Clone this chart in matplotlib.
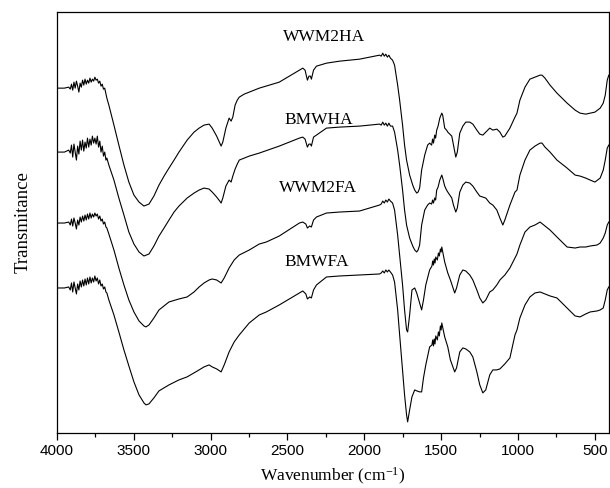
import matplotlib
matplotlib.use("Agg")
import matplotlib.pyplot as plt
from matplotlib.ticker import MultipleLocator

plt.rcParams["mathtext.fontset"] = "custom"
plt.rcParams["mathtext.rm"] = "Liberation Serif"
plt.rcParams["mathtext.it"] = "Liberation Serif:italic"
plt.rcParams["mathtext.bf"] = "Liberation Serif:bold"

# ---------------- data (wavenumber cm^-1, transmittance in arbitrary stacked units) -------------
noise_wn = [3912, 3904, 3896, 3888, 3880, 3872, 3864, 3856, 3848, 3840, 3832, 3824, 3816, 3808, 3800,
            3792, 3784, 3776, 3768, 3760, 3752, 3744, 3736, 3728, 3720, 3712, 3704, 3696, 3688, 3680]

hi_wn = [4000, 3950, 3922] + noise_wn + [
    3674, 3661, 3628, 3596, 3563, 3531, 3498, 3465, 3433, 3400, 3368, 3335, 3302, 3270, 3237, 3205,
    3152, 3107, 3074, 3042, 3009, 2989, 2960, 2940, 2931, 2920, 2900, 2879, 2866, 2855, 2840, 2826,
    2813, 2781, 2748, 2683, 2553, 2422, 2400, 2385, 2370, 2360, 2350, 2344, 2330, 2311, 2246, 2161,
    2031, 1966, 1901, 1890, 1880, 1870, 1860, 1850, 1840, 1830, 1816, 1803, 1783, 1770, 1751, 1738,
    1725, 1705, 1685, 1672, 1659, 1650, 1640, 1627, 1607, 1588, 1575, 1562, 1556, 1550, 1542, 1536,
    1529, 1520, 1509, 1496, 1490, 1477, 1465, 1457, 1444, 1431, 1420, 1405, 1395, 1379, 1359, 1340,
    1314, 1294, 1268, 1249, 1229, 1210, 1184, 1164, 1138, 1118, 1099, 1086, 1053, 1020, 1007, 988,
    955, 923, 890, 857, 844, 825, 792, 747, 681, 629, 597, 560, 531, 500, 466, 446, 433, 420, 410]

wwm2ha = [362, 362, 363,
    361, 366, 360, 368, 362, 369, 364, 358, 367, 363, 370, 365, 371, 366, 370,
    367, 372, 368, 371, 369, 373, 370, 371, 367, 369, 364, 366, 361, 362, 356,
    352, 345, 325, 305, 285, 268, 255, 248, 244, 246, 254, 265, 274, 282, 290, 298,
    310, 318, 322, 325, 326, 322, 314, 307, 304, 308, 322, 332, 329, 333, 345, 350,
    353, 356, 358, 362, 368, 380, 382, 380, 370, 374, 374, 371, 380, 384, 387, 389,
    391, 393, 395, 394, 397, 394, 396, 393, 395, 392, 390, 385, 365, 350, 325, 305,
    290, 275, 265, 260, 257, 258, 262, 280, 295, 305, 307, 305, 311, 307, 315, 312,
    320, 324, 332, 337, 335, 322, 320, 318, 316, 314, 305, 293, 298, 317, 324, 328,
    328, 326, 320, 316, 315, 318, 322, 320, 321, 318, 313, 314, 322, 333, 337, 350,
    363, 371, 373, 375, 375, 372, 365, 357, 347, 340, 337, 336, 337, 338, 342, 347, 355, 370, 375]

bmwha = [298, 298, 300,
    297, 305, 293, 306, 298, 290, 304, 296, 309, 300, 310, 299, 308, 302, 312,
    303, 311, 305, 314, 307, 312, 306, 314, 303, 309, 298, 304, 294, 298, 290,
    292, 285, 270, 252, 235, 218, 206, 198, 194, 196, 204, 214, 222, 230, 238, 244,
    252, 257, 260, 262, 261, 258, 253, 249, 247, 252, 264, 270, 268, 274, 281, 286,
    290, 292, 294, 297, 304, 312, 313, 311, 303, 306, 306, 304, 313, 315, 322, 323,
    324, 325, 326, 325, 328, 325, 327, 324, 327, 324, 324, 318, 300, 285, 260, 240,
    225, 212, 204, 200, 198, 200, 205, 225, 240, 245, 247, 246, 250, 247, 252, 250,
    260, 263, 270, 275, 272, 264, 260, 258, 255, 252, 245, 238, 242, 258, 265, 268,
    267, 264, 258, 254, 253, 252, 247, 245, 240, 232, 225, 230, 245, 258, 260, 275,
    290, 300, 304, 307, 307, 303, 298, 290, 282, 275, 274, 272, 270, 268, 272, 280, 290, 302, 305]

fa_wn = [4000, 3950, 3922] + noise_wn + [
    3674, 3661, 3628, 3596, 3563, 3531, 3498, 3465, 3433, 3420, 3400, 3368, 3335, 3302, 3270, 3205,
    3152, 3107, 3074, 3042, 3009, 2989, 2960, 2931, 2911, 2879, 2846, 2813, 2748, 2683, 2637, 2553,
    2422, 2400, 2380, 2370, 2355, 2344, 2330, 2311, 2246, 2161, 2031, 1901, 1890, 1880, 1870, 1860,
    1850, 1840, 1830, 1816, 1803, 1783, 1770, 1751, 1738, 1725, 1718, 1705, 1690, 1672, 1659, 1640,
    1627, 1615, 1600, 1575, 1560, 1555, 1550, 1545, 1540, 1535, 1525, 1518, 1512, 1505, 1500, 1496,
    1477, 1457, 1440, 1412, 1400, 1379, 1359, 1340, 1314, 1294, 1268, 1249, 1229, 1210, 1184, 1164,
    1138, 1118, 1086, 1053, 1020, 1007, 988, 955, 923, 890, 857, 825, 792, 747, 681, 629, 597, 560,
    531, 486, 466, 446, 433, 420, 410]

wwm2fa = [227, 227, 228,
    225, 231, 224, 232, 227, 221, 230, 225, 233, 228, 234, 229, 235, 230, 236,
    231, 237, 232, 236, 233, 237, 234, 236, 231, 234, 229, 231, 226, 228, 223,
    222, 216, 200, 182, 165, 150, 138, 129, 124, 123, 125, 132, 140, 144, 148, 151,
    153, 158, 163, 167, 170, 171, 170, 167, 172, 182, 190, 195, 200, 206, 208, 214,
    227, 228, 226, 222, 224, 223, 230, 233, 237, 238, 239, 245, 246, 249, 247, 250,
    248, 251, 249, 247, 240, 215, 195, 165, 140, 120, 118, 135, 160, 162, 157, 147,
    140, 150, 165, 180, 184, 189, 185, 191, 187, 193, 190, 197, 194, 201, 198, 203,
    188, 177, 170, 157, 162, 175, 180, 179, 175, 170, 160, 152, 147, 150, 158, 160,
    165, 170, 175, 182, 192, 196, 205, 218, 223, 225, 228, 224, 220, 213, 203, 202, 203, 203,
    204, 205, 207, 212, 217, 225, 228]

bmwfa = [162, 162, 163,
    160, 167, 158, 168, 162, 156, 166, 160, 169, 163, 170, 164, 171, 165, 172,
    166, 173, 167, 172, 168, 174, 169, 172, 166, 170, 164, 166, 161, 163, 158,
    157, 150, 135, 118, 100, 84, 68, 55, 47, 45, 46, 52, 59, 62, 65, 70,
    73, 77, 80, 83, 85, 83, 81, 78, 85, 98, 108, 115, 127, 135, 138, 145,
    157, 159, 156, 151, 153, 152, 160, 165, 173, 174, 175, 176, 177, 179, 177, 180,
    178, 180, 178, 175, 168, 140, 115, 80, 55, 35, 28, 40, 53, 60, 59, 58,
    58, 72, 85, 103, 105, 110, 104, 111, 106, 114, 110, 118, 114, 124, 120, 127,
    113, 103, 90, 78, 82, 98, 102, 101, 98, 93, 78, 65, 57, 60, 75, 80,
    80, 81, 86, 92, 115, 120, 132, 145, 153, 157, 158, 156, 154, 152, 142, 134, 133, 136,
    138, 139, 140, 142, 150, 160, 163]

labels = ["WWM2HA", "BMWHA", "WWM2FA", "BMWFA"]
label_wn = [2259, 2298, 2298, 2311]
label_t = [413, 330, 262, 188]

x_ticks = [4000, 3500, 3000, 2500, 2000, 1500, 1000, 500]

# ---------------- figure ----------------
fig = plt.figure(figsize=(6.10, 4.88), dpi=100)
ax = fig.add_axes([0.093, 0.113, 0.905, 0.862])

for wn, t in [(hi_wn, wwm2ha), (hi_wn, bmwha), (fa_wn, wwm2fa), (fa_wn, bmwfa)]:
    ax.plot(wn, t, color="black", lw=0.8)

serif = ["Liberation Serif", "DejaVu Serif"]
for name, xw, yt in zip(labels, label_wn, label_t):
    ax.text(xw, yt, name, ha="center", va="center", fontsize=12.5, family=serif)

ax.set_xlim(4000, 410)
ax.set_ylim(17, 438)
ax.set_xticks(x_ticks)
ax.xaxis.set_minor_locator(MultipleLocator(250))
ax.set_yticks([])
ax.tick_params(axis="x", which="major", direction="out", length=5, width=0.9,
               labelsize=11, top=False, pad=3)
ax.tick_params(axis="x", which="minor", direction="out", length=3, width=0.9, top=False)
for lab in ax.get_xticklabels():
    lab.set_family(["Liberation Sans", "DejaVu Sans"])
for s in ax.spines.values():
    s.set_linewidth(0.9)

ax.set_xlabel(r"Wavenumber (cm$^{\mathrm{-1}}$)", fontsize=12.5, family=serif, labelpad=6)
ax.set_ylabel("Transmitance", fontsize=13.5, family=serif, labelpad=18)

fig.savefig("out.png", dpi=100)
